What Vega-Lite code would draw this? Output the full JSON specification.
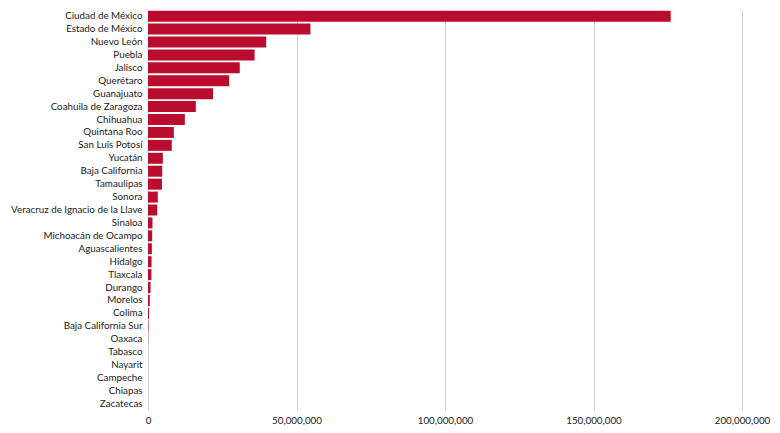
{
  "$schema": "https://vega.github.io/schema/vega-lite/v6.json",
  "width": 594,
  "height": 400,
  "autosize": {"type": "none"},
  "padding": {"left": 148, "top": 10, "right": 38, "bottom": 23},
  "background": "#ffffff",
  "data": {
    "values": [
      {"estado": "Ciudad de México", "valor": 176000000},
      {"estado": "Estado de México", "valor": 54700000},
      {"estado": "Nuevo León", "valor": 39800000},
      {"estado": "Puebla", "valor": 35900000},
      {"estado": "Jalisco", "valor": 30900000},
      {"estado": "Querétaro", "valor": 27300000},
      {"estado": "Guanajuato", "valor": 21900000},
      {"estado": "Coahuila de Zaragoza", "valor": 16100000},
      {"estado": "Chihuahua", "valor": 12400000},
      {"estado": "Quintana Roo", "valor": 8700000},
      {"estado": "San Luis Potosí", "valor": 8000000},
      {"estado": "Yucatán", "valor": 5000000},
      {"estado": "Baja California", "valor": 4800000},
      {"estado": "Tamaulipas", "valor": 4700000},
      {"estado": "Sonora", "valor": 3300000},
      {"estado": "Veracruz de Ignacio de la Llave", "valor": 3100000},
      {"estado": "Sinaloa", "valor": 1500000},
      {"estado": "Michoacán de Ocampo", "valor": 1400000},
      {"estado": "Aguascalientes", "valor": 1300000},
      {"estado": "Hidalgo", "valor": 1200000},
      {"estado": "Tlaxcala", "valor": 1150000},
      {"estado": "Durango", "valor": 850000},
      {"estado": "Morelos", "valor": 600000},
      {"estado": "Colima", "valor": 350000},
      {"estado": "Baja California Sur", "valor": 150000},
      {"estado": "Oaxaca", "valor": 50000},
      {"estado": "Tabasco", "valor": 10000},
      {"estado": "Nayarit", "valor": 5000},
      {"estado": "Campeche", "valor": 3000},
      {"estado": "Chiapas", "valor": 2000},
      {"estado": "Zacatecas", "valor": 1000}
    ]
  },
  "mark": {"type": "bar", "color": "#BA0C2F"},
  "encoding": {
    "y": {
      "field": "estado",
      "type": "nominal",
      "sort": {"field": "valor", "order": "descending"},
      "scale": {"paddingInner": 0.15, "paddingOuter": 0.05},
      "axis": {
        "title": null,
        "ticks": false,
        "domain": false,
        "labelPadding": 6,
        "labelLimit": 200
      }
    },
    "x": {
      "field": "valor",
      "type": "quantitative",
      "scale": {"domain": [0, 200000000]},
      "axis": {
        "title": null,
        "format": ",d",
        "values": [0, 50000000, 100000000, 150000000, 200000000],
        "ticks": false,
        "domain": false,
        "grid": true,
        "gridColor": "#d0d0d0",
        "labelFlush": false,
        "labelPadding": 5
      }
    },
    "tooltip": [
      {"field": "estado", "type": "nominal"},
      {"field": "valor", "type": "quantitative", "format": ","}
    ]
  },
  "config": {
    "view": {"stroke": null},
    "axis": {
      "labelFont": "Lato",
      "labelFontSize": 9.8,
      "labelColor": "#222222"
    }
  }
}
